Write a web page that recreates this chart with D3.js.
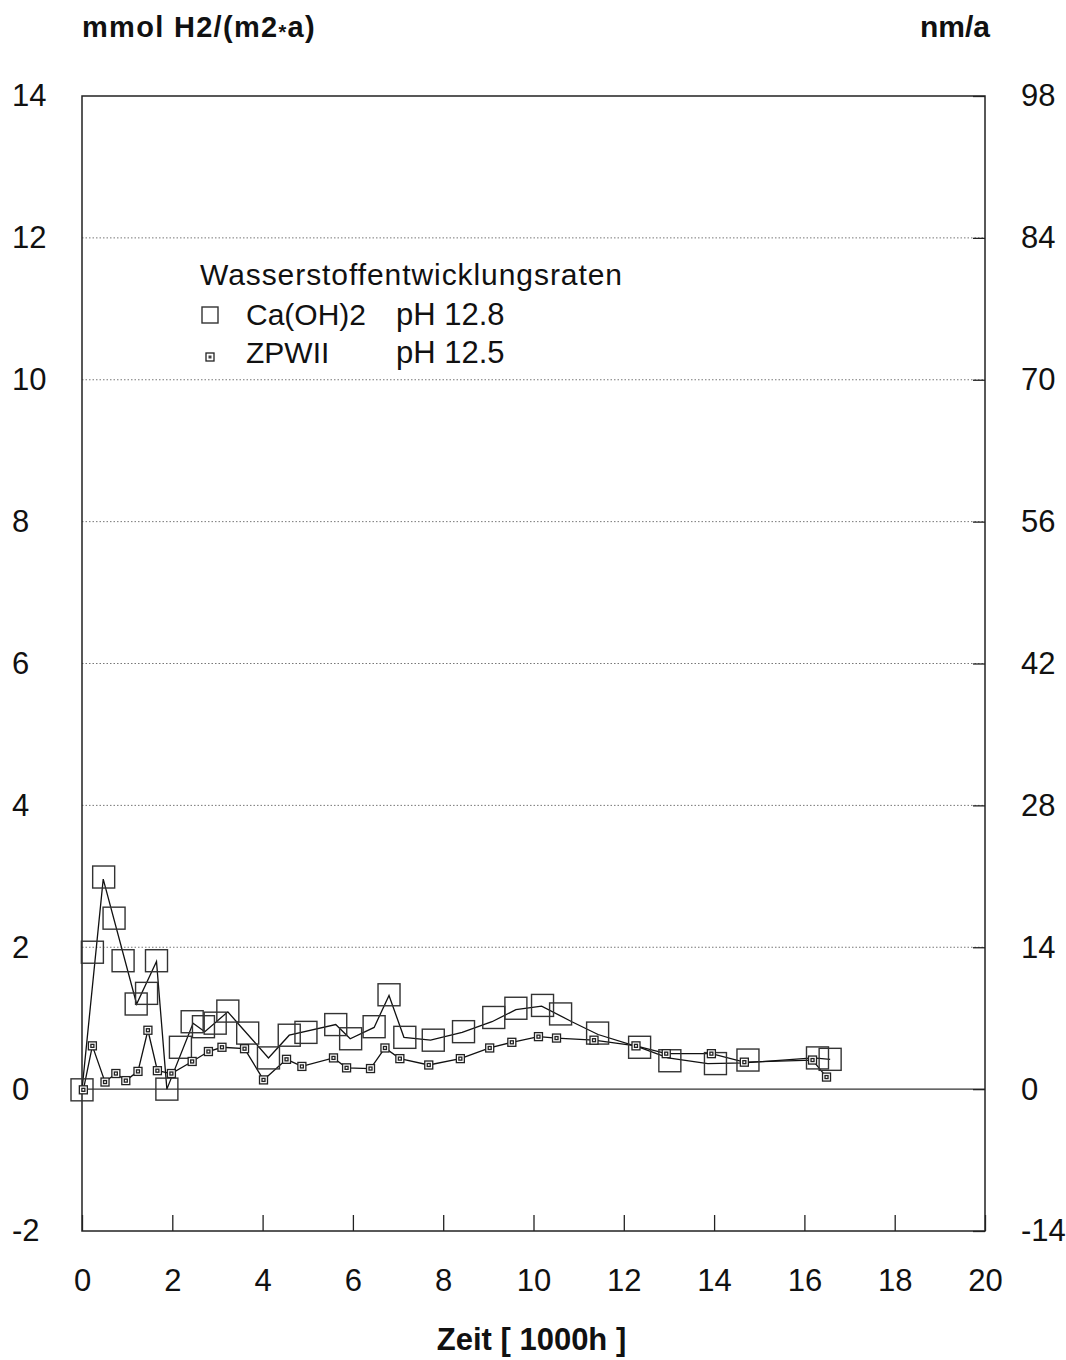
<!DOCTYPE html>
<meta charset="utf-8">
<style>

body {
  margin: 0;
  background: #fff;
}

svg {
  font-family: "Liberation Sans", Arial, Helvetica, sans-serif;
}

.frame {
  fill: none;
  stroke: #222;
  stroke-width: 1.5px;
}

.grid line {
  stroke: #777;
  stroke-width: 1px;
  stroke-dasharray: 1.5,2;
}

.line {
  fill: none;
  stroke: #111;
  stroke-width: 1.3px;
}

.ca rect {
  fill: none;
  stroke: #333;
  stroke-width: 1.4px;
}

.zpw rect {
  fill: #fff;
  stroke: #222;
  stroke-width: 1.3px;
}

</style>
<body>
<svg width="1066" height="1360"></svg>
<script src="https://d3js.org/d3.v7.min.js"></script>
<script>

// Ca(OH)2 pH 12.8 – measured points (x in 1000h, y in mmol H2/(m2*a))
var caX = [0.0, 0.23, 0.48, 0.71, 0.91, 1.2, 1.43, 1.65, 1.88, 2.18, 2.44, 2.69, 2.95, 3.23, 3.67,
           4.13, 4.59, 4.96, 5.62, 5.95, 6.47, 6.8, 7.15, 7.78, 8.45, 9.12, 9.61, 10.2, 10.6,
           11.42, 12.35, 13.02, 14.03, 14.75, 16.29, 16.57];
var caY = [-0.01, 1.93, 2.99, 2.41, 1.81, 1.2, 1.35, 1.81, 0.0, 0.59, 0.95, 0.88, 0.93, 1.1, 0.79,
           0.44, 0.76, 0.8, 0.91, 0.71, 0.88, 1.33, 0.73, 0.69, 0.81, 1.01, 1.14, 1.18, 1.06,
           0.79, 0.59, 0.4, 0.36, 0.41, 0.44, 0.42];

// Ca(OH)2 – drawn curve (smoothed in places)
var caLineX = [0, 0.47, 1.21, 1.65, 1.88, 2.46, 2.72, 3.23, 3.49, 4.13, 4.59, 5.62, 5.94, 6.47,
               6.8, 7.13, 7.72, 8.42, 9.08, 9.61, 10.18, 10.85, 11.43, 12.35, 12.98, 13.86,
               14.67, 16.2, 16.57];
var caLineY = [-0.01, 2.96, 1.2, 1.8, 0, 0.93, 0.81, 1.09, 0.9, 0.44, 0.76, 0.91, 0.71, 0.87,
               1.32, 0.73, 0.69, 0.8, 0.95, 1.12, 1.17, 0.95, 0.77, 0.59, 0.44, 0.36,
               0.37, 0.44, 0.42];

// ZPWII pH 12.5
var zpwX = [0.03, 0.23, 0.51, 0.75, 0.97, 1.24, 1.46, 1.67, 1.98, 2.44, 2.8, 3.1, 3.6, 4.02,
            4.53, 4.87, 5.57, 5.86, 6.39, 6.71, 7.04, 7.68, 8.38, 9.03, 9.52, 10.11, 10.51,
            11.34, 12.27, 12.94, 13.94, 14.67, 16.18, 16.49];
var zpwY = [-0.01, 0.61, 0.1, 0.22, 0.12, 0.25, 0.83, 0.26, 0.22, 0.39, 0.53, 0.59, 0.57, 0.13,
            0.42, 0.32, 0.44, 0.3, 0.29, 0.58, 0.43, 0.34, 0.43, 0.58, 0.66, 0.74, 0.72,
            0.69, 0.61, 0.5, 0.5, 0.38, 0.41, 0.17];

var xTicks = [0, 2, 4, 6, 8, 10, 12, 14, 16, 18, 20];
var yTicks = [-2, 0, 2, 4, 6, 8, 10, 12, 14];
var yRightTicks = [-14, 0, 14, 28, 42, 56, 70, 84, 98];

var plotLeft = 82, plotRight = 985, plotTop = 96, plotBottom = 1231;

var x = d3.scaleLinear().domain([0, 20]).range([plotLeft, plotRight]);
var y = d3.scaleLinear().domain([-2, 14]).range([plotBottom, plotTop]);
var yR = d3.scaleLinear().domain([-14, 98]).range([plotBottom, plotTop]);

var svg = d3.select("svg");

// gridlines
svg.append("g").attr("class", "grid")
  .selectAll("line")
  .data(yTicks.filter(function(d) { return d > -2 && d < 14 && d !== 0; }))
  .enter().append("line")
    .attr("x1", plotLeft).attr("x2", plotRight)
    .attr("y1", function(d) { return y(d); })
    .attr("y2", function(d) { return y(d); });

// zero line
svg.append("line")
  .attr("x1", plotLeft).attr("x2", plotRight)
  .attr("y1", y(0)).attr("y2", y(0))
  .attr("stroke", "#333").attr("stroke-width", 1.4);

// x axis: ticks inside
var xAxis = svg.append("g")
  .attr("transform", "translate(0," + plotBottom + ")")
  .call(d3.axisBottom(x).tickValues(xTicks).tickSize(-16).tickPadding(38)
        .tickFormat(function(d) { return String(d); }));
xAxis.select(".domain").remove();
xAxis.selectAll("line").attr("stroke", "#222").attr("stroke-width", 1.3);
xAxis.selectAll("text").attr("font-size", 31).attr("fill", "#111")
  .style("font-family", "inherit");

// left labels
var yAxis = svg.append("g")
  .attr("transform", "translate(" + plotLeft + ",0)")
  .call(d3.axisLeft(y).tickValues(yTicks).tickSize(0)
        .tickFormat(function(d) { return String(d); }));
yAxis.select(".domain").remove();
yAxis.selectAll("text").attr("font-size", 31).attr("fill", "#111")
  .attr("text-anchor", "start").attr("x", 12 - plotLeft)
  .style("font-family", "inherit");

// right labels (nm/a)
var yAxisR = svg.append("g")
  .attr("transform", "translate(" + plotRight + ",0)")
  .call(d3.axisRight(yR).tickValues(yRightTicks).tickSize(-12).tickPadding(36)
        .tickFormat(function(d) { return String(d); }));
yAxisR.select(".domain").remove();
yAxisR.selectAll("line").attr("stroke", "#222").attr("stroke-width", 1.3);
yAxisR.selectAll("text").attr("font-size", 31).attr("fill", "#111")
  .attr("text-anchor", "start")
  .style("font-family", "inherit");

// frame
svg.append("rect").attr("class", "frame")
  .attr("x", plotLeft).attr("y", plotTop)
  .attr("width", plotRight - plotLeft).attr("height", plotBottom - plotTop);

// lines
var line = d3.line()
  .x(function(d) { return x(d[0]); })
  .y(function(d) { return y(d[1]); });

svg.append("path").attr("class", "line")
  .attr("d", line(d3.zip(caLineX, caLineY)));
svg.append("path").attr("class", "line")
  .attr("d", line(d3.zip(zpwX, zpwY)));

// Ca(OH)2 markers
var big = 22, small = 8;
svg.append("g").attr("class", "ca")
  .selectAll("rect")
  .data(d3.zip(caX, caY))
  .enter().append("rect")
    .attr("x", function(d) { return x(d[0]) - big / 2; })
    .attr("y", function(d) { return y(d[1]) - big / 2; })
    .attr("width", big).attr("height", big);

// ZPWII markers
var zg = svg.append("g").attr("class", "zpw")
  .selectAll("g")
  .data(d3.zip(zpwX, zpwY))
  .enter().append("g")
    .attr("transform", function(d) { return "translate(" + x(d[0]) + "," + y(d[1]) + ")"; });
zg.append("rect")
  .attr("x", -small / 2).attr("y", -small / 2)
  .attr("width", small).attr("height", small);
zg.append("rect")
  .attr("x", -1.5).attr("y", -1.5).attr("width", 3).attr("height", 3)
  .attr("fill", "#444").attr("stroke", "none");

// axis titles
var t1 = svg.append("text")
  .attr("x", 82).attr("y", 37)
  .attr("font-size", 29).attr("font-weight", "bold").attr("fill", "#111")
  .attr("letter-spacing", 1.3);
t1.append("tspan").text("mmol H2/(m2");
t1.append("tspan").attr("font-size", 20).attr("dy", 2).text("*");
t1.append("tspan").attr("dy", -2).text("a)");

svg.append("text")
  .attr("x", 990).attr("y", 37).attr("text-anchor", "end")
  .attr("font-size", 30).attr("font-weight", "bold").attr("fill", "#111")
  .text("nm/a");

svg.append("text")
  .attr("x", (plotLeft + plotRight) / 2 - 2).attr("y", 1350).attr("text-anchor", "middle")
  .attr("font-size", 31).attr("font-weight", "bold").attr("fill", "#111")
  .text("Zeit [ 1000h ]");

// legend
var legend = svg.append("g").attr("fill", "#111").attr("font-size", 30);
legend.append("text").attr("x", 200).attr("y", 285)
  .attr("textLength", 422).attr("lengthAdjust", "spacing")
  .text("Wasserstoffentwicklungsraten");
legend.append("rect").attr("x", 202).attr("y", 307).attr("width", 16).attr("height", 16)
  .attr("fill", "none").attr("stroke", "#333").attr("stroke-width", 1.4);
legend.append("text").attr("x", 246).attr("y", 325).text("Ca(OH)2");
legend.append("text").attr("x", 396).attr("y", 325).attr("font-size", 31).text("pH 12.8");
legend.append("rect").attr("x", 206).attr("y", 353).attr("width", 8).attr("height", 8)
  .attr("fill", "#fff").attr("stroke", "#222").attr("stroke-width", 1.3);
legend.append("rect").attr("x", 208.5).attr("y", 355.5).attr("width", 3).attr("height", 3)
  .attr("fill", "#444");
legend.append("text").attr("x", 246).attr("y", 363).text("ZPWII");
legend.append("text").attr("x", 396).attr("y", 363).attr("font-size", 31).text("pH 12.5");

</script>
